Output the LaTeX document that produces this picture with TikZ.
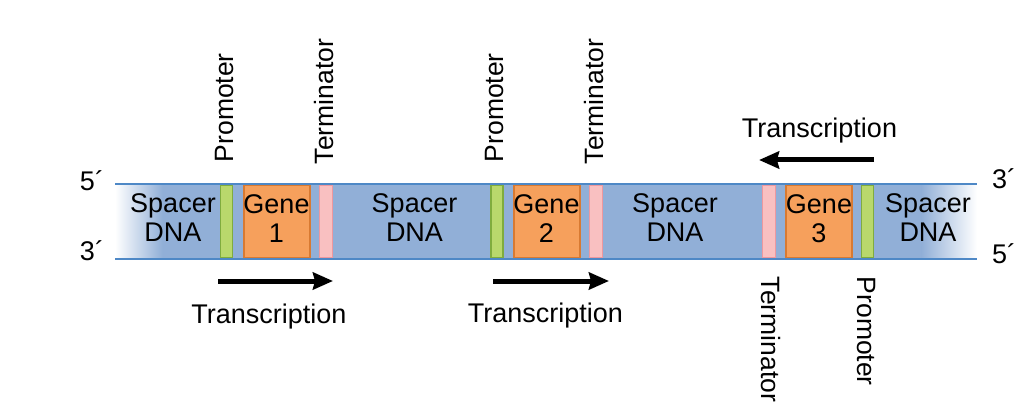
\documentclass[tikz,border=0pt]{standalone}
\usepackage{fontspec}
\setmainfont{Liberation Sans}
\usetikzlibrary{arrows.meta}
\definecolor{bandblue}{RGB}{145,175,215}
\definecolor{strandblue}{RGB}{78,136,198}
\definecolor{promgreen}{RGB}{185,216,108}
\definecolor{promedge}{RGB}{128,172,62}
\definecolor{geneorange}{RGB}{246,160,92}
\definecolor{geneedge}{RGB}{216,122,50}
\definecolor{termpink}{RGB}{249,192,193}
\definecolor{termedge}{RGB}{238,152,158}
\tikzset{>=stealth,
  dnatext/.style={font=\fontsize{27}{29}\selectfont, align=center, inner sep=0pt},
  boxpart/.style={minimum height=73pt, inner sep=0pt, line width=1.2pt},
  promoter/.style={boxpart, fill=promgreen, draw=promedge, minimum width=12pt},
  terminator/.style={boxpart, fill=termpink, draw=termedge, minimum width=13pt},
  gene/.style={boxpart, fill=geneorange, draw=geneedge, line width=2pt, minimum width=66pt},
  uplabel/.style={rotate=90, anchor=base west, inner sep=0pt, font=\fontsize{26.5}{30}\selectfont},
  downlabel/.style={rotate=-90, anchor=base west, inner sep=0pt, font=\fontsize{26.5}{30}\selectfont},
  strand/.style={strandblue, line width=2.6pt},
  txarrow/.style={line width=5pt, -{Stealth[length=20pt, width=17pt, inset=2pt]}}
}
\begin{document}
\begin{tikzpicture}[x=1pt, y=-1pt]
    \useasboundingbox (0,0) rectangle (1029,417);
    % the double strand
    \fill[bandblue] (162,184) rectangle (922,259);
    \shade[left color=white, right color=bandblue] (115,184) rectangle (162.5,259);
    \shade[left color=bandblue, right color=white] (921.5,184) rectangle (977,259);
    % genes 1 and 2
    \node[promoter] (p1) at (226.5,221.5) {};
    \node[gene] (g1) at (276.5,221.5) {};
    \node[terminator] (t1) at (326,221.5) {};
    \node[promoter] (p2) at (497,221.5) {};
    \node[gene] (g2) at (546.5,221.5) {};
    \node[terminator] (t2) at (596,221.5) {};
    % gene 3, other strand
    \node[terminator] (t3) at (769,221.5) {};
    \node[gene] (g3) at (819,221.5) {};
    \node[promoter] (p3) at (867.5,221.5) {};
    \draw[strand] (115,184) -- (977,184);
    \draw[strand] (115,259) -- (977,259);
    % texts on the strand
    \node[dnatext] (s1) at (173,218) {Spacer\\DNA};
    \node[dnatext] (s2) at (414.5,218) {Spacer\\DNA};
    \node[dnatext] (s3) at (675,218) {Spacer\\DNA};
    \node[dnatext] (s4) at (928,218) {Spacer\\DNA};
    \node[dnatext] (g1t) at ([yshift=3pt]g1) {Gene\\1};
    \node[dnatext] (g2t) at ([yshift=3pt]g2) {Gene\\2};
    \node[dnatext] (g3t) at ([yshift=3pt]g3) {Gene\\3};
    % ends
    \node[dnatext, anchor=base] (e5l) at (92,190) {5´};
    \node[dnatext, anchor=base] (e3l) at (92,261) {3´};
    \node[dnatext, anchor=base] (e3r) at (1004,189) {3´};
    \node[dnatext, anchor=base] (e5r) at (1004,263) {5´};
    % element labels
    \node[uplabel] (lp1) at ([yshift=22pt]p1.north east) {Promoter};
    \node[uplabel] (lt1) at ([yshift=20pt]t1.north east) {Terminator};
    \node[uplabel] (lp2) at ([yshift=22pt]p2.north east) {Promoter};
    \node[uplabel] (lt2) at ([yshift=20pt]t2.north east) {Terminator};
    \node[downlabel] (lt3) at ([yshift=-18pt]t3.south west) {Terminator};
    \node[downlabel] (lp3) at ([xshift=-3pt, yshift=-18pt]p3.south west) {Promoter};
    % direction of transcription
    \coordinate (a1s) at (218,281);
    \coordinate (a1e) at (333,281);
    \coordinate (a2s) at (493,281);
    \coordinate (a2e) at (609,281);
    \coordinate (a3s) at (874,160);
    \coordinate (a3e) at (759,160);
    \draw[txarrow] (a1s) -- (a1e);
    \draw[txarrow] (a2s) -- (a2e);
    \draw[txarrow] (a3s) -- (a3e);
    \node[dnatext, anchor=base] (tx1) at (269,323) {Transcription};
    \node[dnatext, anchor=base] (tx2) at (545.5,322) {Transcription};
    \node[dnatext, anchor=base] (tx3) at (819.5,138) {Transcription};
\end{tikzpicture}
\end{document}
